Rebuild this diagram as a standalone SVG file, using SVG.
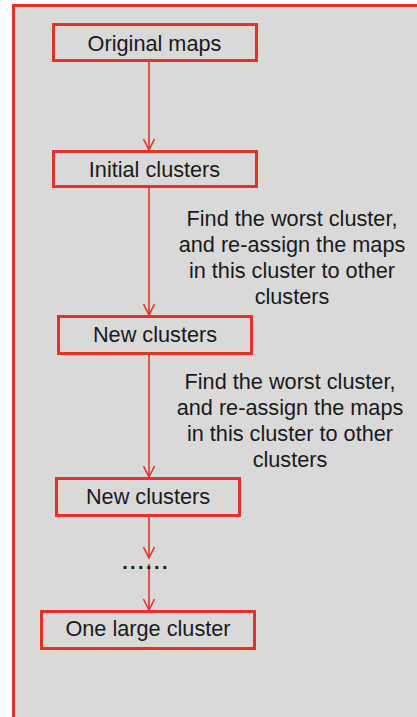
<svg xmlns="http://www.w3.org/2000/svg" width="417" height="717" viewBox="0 0 417 717">
<style>
.box{fill:#d9d9d9;stroke:#e53228;stroke-width:3}
.lbl{font-family:"Liberation Sans",Arial,sans-serif;font-size:21.7px;fill:#1a1a1a;text-anchor:middle}
.conn line{stroke:#e53228;stroke-width:1.6}
</style>
<defs>
<marker id="ah" markerWidth="14" markerHeight="12" refX="12" refY="6" orient="auto" markerUnits="userSpaceOnUse">
<path d="M1,0.5 L12,6 L1,11.5" fill="none" stroke="#e53228" stroke-width="1.6"/>
</marker>
</defs>
<rect width="417" height="717" fill="#ffffff"/>
<rect id="frame" x="13.5" y="5.5" width="420" height="713" fill="#d9d9d9" stroke="#e53228" stroke-width="3"/>
<g class="conn" id="connectors">
<line x1="149" y1="62" x2="149" y2="150" marker-end="url(#ah)"/>
<line x1="149" y1="188" x2="149" y2="315" marker-end="url(#ah)"/>
<line x1="149" y1="355" x2="149" y2="477" marker-end="url(#ah)"/>
<line x1="149" y1="517" x2="149" y2="558" marker-end="url(#ah)"/>
<line x1="149" y1="564" x2="149" y2="610" marker-end="url(#ah)"/>
</g>
<g id="n1"><rect class="box" x="53.5" y="24.5" width="203" height="36"/><text class="lbl" x="154.5" y="50.5">Original maps</text></g>
<g id="n2"><rect class="box" x="53.5" y="151.5" width="203" height="35"/><text class="lbl" x="154.5" y="176.5">Initial clusters</text></g>
<g id="n3"><rect class="box" x="58.5" y="316.5" width="193" height="37"/><text class="lbl" x="155" y="342">New clusters</text></g>
<g id="n4"><rect class="box" x="56.5" y="478.5" width="183" height="37"/><text class="lbl" x="148" y="503.5">New clusters</text></g>
<g id="n5"><rect class="box" x="41.5" y="611.5" width="213" height="37"/><text class="lbl" x="148" y="636">One large cluster</text></g>
<g id="t1"><text class="lbl" x="292"><tspan x="292" y="226">Find the worst cluster,</tspan><tspan x="292" y="252">and re-assign the maps</tspan><tspan x="292" y="278">in this cluster to other</tspan><tspan x="292" y="304">clusters</tspan></text></g>
<g id="t2"><text class="lbl" x="290"><tspan x="290" y="389">Find the worst cluster,</tspan><tspan x="290" y="415">and re-assign the maps</tspan><tspan x="290" y="441">in this cluster to other</tspan><tspan x="290" y="467">clusters</tspan></text></g>
<g id="dots"><text x="146" y="569" style="font-family:'Liberation Sans',Arial,sans-serif;font-size:20px;font-weight:bold;fill:#1e1e1e;text-anchor:middle;letter-spacing:2.4px">......</text></g>
</svg>
